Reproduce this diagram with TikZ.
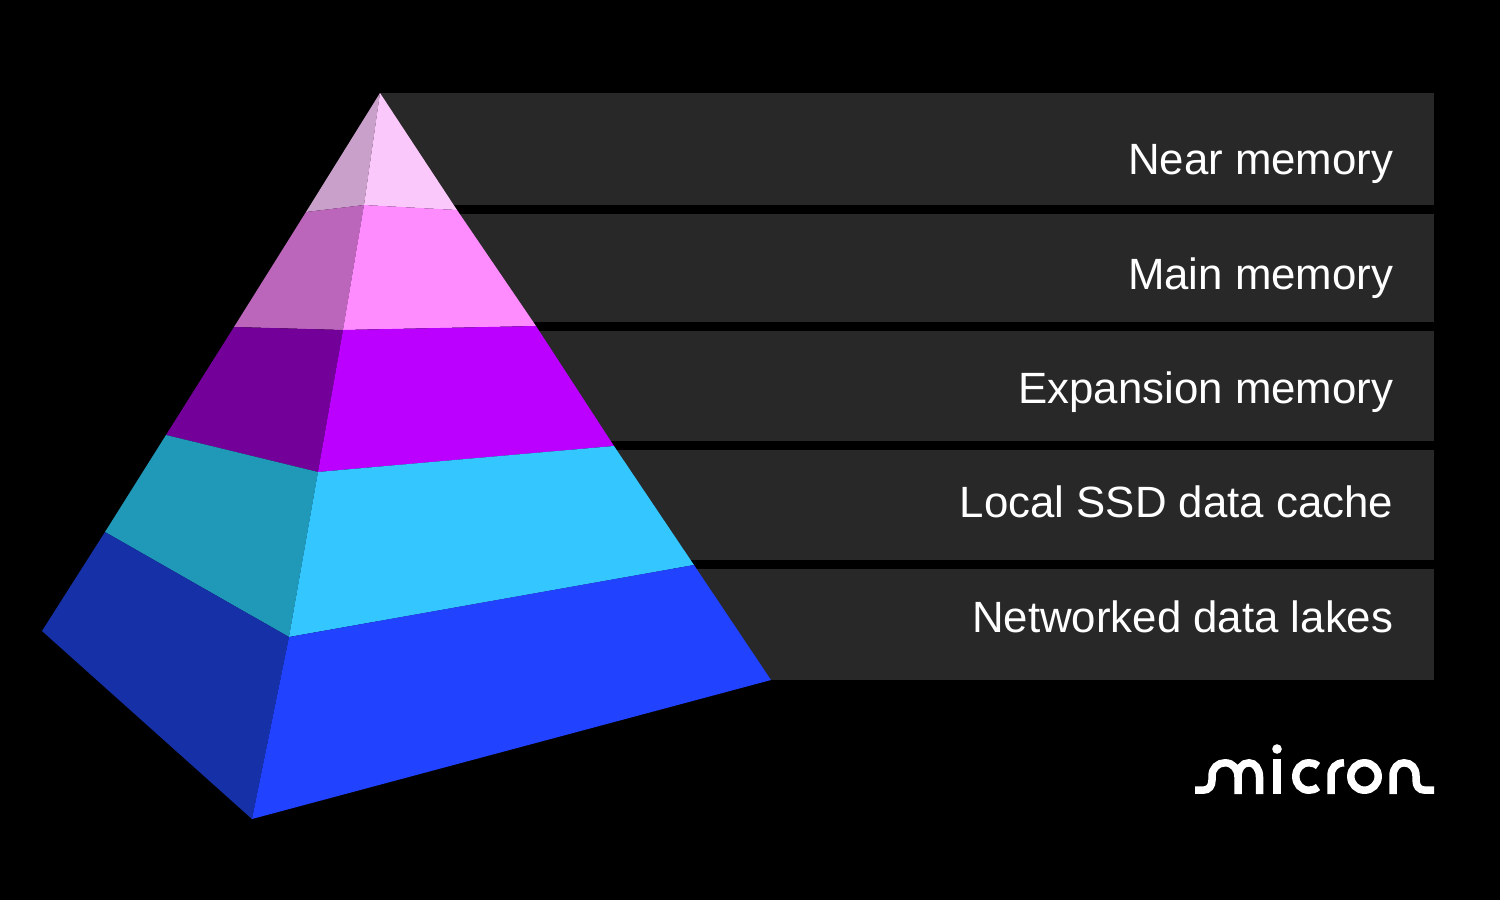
\documentclass[tikz,border=0pt]{standalone}
\usepackage{fontspec}
\setmainfont{Liberation Sans}

\definecolor{side1}{HTML}{C9A0C9}
\definecolor{face1}{HTML}{FBC8FB}
\definecolor{side2}{HTML}{BB66BB}
\definecolor{face2}{HTML}{FF8CFF}
\definecolor{side3}{HTML}{730099}
\definecolor{face3}{HTML}{BB00FF}
\definecolor{side4}{HTML}{2098B8}
\definecolor{face4}{HTML}{33C6FF}
\definecolor{side5}{HTML}{1631A8}
\definecolor{face5}{HTML}{2142FF}
\definecolor{barfill}{HTML}{282828}

\tikzset{
  barlabel/.style={
    anchor=base east,
    inner sep=0pt,
    text=white,
    font=\fontsize{43.8}{50}\selectfont,
  },
  logostroke/.style={
    draw=white,
    line width=7.5pt,
  },
}

\begin{document}
\begin{tikzpicture}[x=1pt,y=-1pt]
\fill[black] (0,0) rectangle (1500,900);

\foreach[count=\k] \ytop/\ybot/\ybase/\txt in {
  93/205/174/Near memory,
  214/322/289/Main memory,
  331/441/403/Expansion memory,
  450/560/517/Local SSD data cache,
  569/680/632/Networked data lakes%
} {
  \fill[barfill] (380,\ytop) rectangle (1434,\ybot);
  \node[barlabel] (label\k) at (1393.5,\ybase) {\txt};
}

\coordinate (l0) at (380,93);
\coordinate (m0) at (380,93);
\coordinate (r0) at (380,93);
\coordinate (l1) at (306,212);
\coordinate (m1) at (364,205);
\coordinate (r1) at (457,210);
\coordinate (l2) at (234,327);
\coordinate (m2) at (343,330);
\coordinate (r2) at (536,326);
\coordinate (l3) at (166,435);
\coordinate (m3) at (318,472);
\coordinate (r3) at (614,446);
\coordinate (l4) at (105,532);
\coordinate (m4) at (289,637);
\coordinate (r4) at (694,565);
\coordinate (l5) at (42,631);
\coordinate (m5) at (252,819);
\coordinate (r5) at (771,680);

\foreach[count=\j] \k in {0,...,4} {
  \fill[side\j] (l\k) -- (m\k) -- (m\j) -- (l\j) -- cycle;
  \fill[face\j] (m\k) -- (r\k) -- (r\j) -- (m\j) -- cycle;
}

% logo
\draw[logostroke] (1195,790.2) -- (1203,790.2) .. controls (1209,790.2) and (1212,786) .. (1212,780)
  -- (1212,776) .. controls (1212,768) and (1218,762.8) .. (1225,762.8)
  .. controls (1233,762.8) and (1238,769) .. (1238,777) -- (1238,794);
\draw[logostroke] (1238,777) .. controls (1238,769) and (1242,762.8) .. (1249,762.8)
  .. controls (1255,762.8) and (1259.5,769) .. (1259.5,777) -- (1259.5,794);
\draw[logostroke] (1277,759) -- (1277,794);
\fill[white] (1277,749) circle (4.8);
\draw[logostroke] (1318,766) .. controls (1315,763.5) and (1312,762.8) .. (1309,762.8)
  .. controls (1301,762.8) and (1295.8,769) .. (1295.8,776.5)
  .. controls (1295.8,784) and (1301,790.2) .. (1309,790.2)
  .. controls (1312,790.2) and (1315,789.5) .. (1318,787);
\draw[logostroke] (1331,794) -- (1331,776) .. controls (1331,768) and (1336,762.8) .. (1344,762.8);
\draw[logostroke] (1364.5,776.5) circle (13.7);
\draw[logostroke] (1393,794) -- (1393,776) .. controls (1393,768) and (1398,762.8) .. (1404,762.8)
  .. controls (1411,762.8) and (1416,768) .. (1416,776) -- (1416,780)
  .. controls (1416,786) and (1419,790.2) .. (1425,790.2) -- (1434,790.2);
\end{tikzpicture}
\end{document}
